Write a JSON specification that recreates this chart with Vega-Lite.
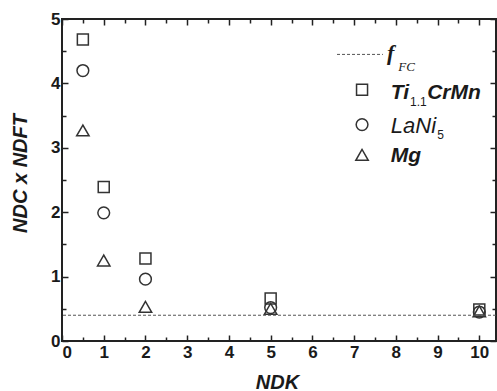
{
  "$schema": "https://vega.github.io/schema/vega-lite/v6.json",
  "width": 434,
  "height": 322,
  "autosize": {"type": "none"},
  "padding": {"left": 62, "top": 19, "right": 1, "bottom": 50},
  "background": "white",
  "config": {
    "view": {"stroke": "#222", "strokeWidth": 2},
    "axis": {"grid": false, "domain": false, "tickColor": "#222", "tickWidth": 1.5, "labelFont": "Liberation Sans", "labelFontWeight": "bold", "labelFontSize": 17, "labelColor": "#1a1a1a", "titleFont": "Liberation Sans", "titleFontWeight": "bold", "titleFontStyle": "italic", "titleColor": "#1a1a1a"}
  },
  "datasets": {
    "pts": [
      {"NDK": 0.5, "v": 4.68, "series": "Ti"},
      {"NDK": 1, "v": 2.39, "series": "Ti"},
      {"NDK": 2, "v": 1.28, "series": "Ti"},
      {"NDK": 5, "v": 0.66, "series": "Ti"},
      {"NDK": 10, "v": 0.49, "series": "Ti"},
      {"NDK": 0.5, "v": 4.2, "series": "LaNi"},
      {"NDK": 1, "v": 1.99, "series": "LaNi"},
      {"NDK": 2, "v": 0.96, "series": "LaNi"},
      {"NDK": 5, "v": 0.52, "series": "LaNi"},
      {"NDK": 10, "v": 0.45, "series": "LaNi"},
      {"NDK": 0.5, "v": 3.27, "series": "Mg"},
      {"NDK": 1, "v": 1.25, "series": "Mg"},
      {"NDK": 2, "v": 0.53, "series": "Mg"},
      {"NDK": 5, "v": 0.5, "series": "Mg"},
      {"NDK": 10, "v": 0.46, "series": "Mg"}
    ],
    "fc": [{"f": 0.4}],
    "legSym": [
      {"lx": 7.19, "ly": 3.9, "series": "Ti"},
      {"lx": 7.19, "ly": 3.36, "series": "LaNi"},
      {"lx": 7.19, "ly": 2.89, "series": "Mg"}
    ],
    "legLine": [{"lx": 6.59, "ly": 4.45}, {"lx": 7.69, "ly": 4.45}],
    "legBold": [
      {"lx": 7.88, "ly": 3.76, "t": "Ti"},
      {"lx": 8.75, "ly": 3.76, "t": "CrMn"},
      {"lx": 7.88, "ly": 2.78, "t": "Mg"}
    ],
    "legReg": [
      {"lx": 7.88, "ly": 3.23, "t": "LaNi"}
    ],
    "legSub": [
      {"lx": 8.34, "ly": 3.65, "t": "1.1"},
      {"lx": 8.99, "ly": 3.13, "t": "5"}
    ],
    "legF": [{"lx": 7.79, "ly": 4.37, "t": "f"}],
    "legFC": [{"lx": 8.06, "ly": 4.2, "t": "FC"}]
  },
  "resolve": {"axis": {"x": "independent", "y": "independent"}},
  "layer": [
    {
      "data": {"name": "pts"},
      "mark": {"type": "point", "filled": false, "strokeWidth": 1.5, "color": "#333", "opacity": 1},
      "encoding": {
        "x": {"field": "NDK", "type": "quantitative", "scale": {"domain": [0, 10.4], "nice": false, "zero": false},
              "axis": {"orient": "bottom", "values": [0,1,2,3,4,5,6,7,8,9,10], "tickSize": -6, "labelPadding": 9, "title": "NDK", "titleFontSize": 20, "titleX": 215, "titleY": 47, "titleBaseline": "alphabetic", "titleAnchor": "middle"}},
        "y": {"field": "v", "type": "quantitative", "scale": {"domain": [0, 5], "nice": false},
              "axis": {"orient": "left", "values": [0,1,2,3,4,5], "tickSize": -6, "labelPadding": 8, "title": "NDC x NDFT", "titleFontSize": 20, "titleX": -42, "titleY": 154, "titleAngle": -90, "titleBaseline": "middle", "titleAnchor": "middle"}},
        "shape": {"field": "series", "type": "nominal", "scale": {"domain": ["Ti", "LaNi", "Mg"], "range": ["square", "circle", "triangle-up"]}, "legend": null},
        "size": {"field": "series", "type": "nominal", "scale": {"domain": ["Ti", "LaNi", "Mg"], "range": [121, 155, 235]}, "legend": null}
      }
    },
    {
      "data": {"name": "fc"},
      "mark": {"type": "rule", "strokeDash": [3, 2], "color": "#555", "strokeWidth": 1},
      "encoding": {
        "y": {"field": "f", "type": "quantitative", "axis": {"orient": "right", "values": [0,1,2,3,4,5], "tickSize": -6, "labels": false, "title": null}}
      }
    },
    {
      "data": {"name": "pts"},
      "mark": {"type": "point", "opacity": 0},
      "encoding": {
        "x": {"field": "NDK", "type": "quantitative", "axis": {"orient": "top", "values": [0,1,2,3,4,5,6,7,8,9,10], "tickSize": -6, "labels": false, "title": null}},
        "y": {"field": "v", "type": "quantitative", "axis": {"orient": "left", "values": [0.5,1.5,2.5,3.5,4.5], "tickSize": -4, "labels": false, "title": null}}
      }
    },
    {
      "data": {"name": "pts"},
      "mark": {"type": "point", "opacity": 0},
      "encoding": {
        "x": {"field": "NDK", "type": "quantitative", "axis": {"orient": "bottom", "values": [0.5,1.5,2.5,3.5,4.5,5.5,6.5,7.5,8.5,9.5], "tickSize": -4, "labels": false, "title": null}},
        "y": {"field": "v", "type": "quantitative", "axis": {"orient": "right", "values": [0.5,1.5,2.5,3.5,4.5], "tickSize": -4, "labels": false, "title": null}}
      }
    },
    {
      "data": {"name": "pts"},
      "mark": {"type": "point", "opacity": 0},
      "encoding": {
        "x": {"field": "NDK", "type": "quantitative", "axis": {"orient": "top", "values": [0.5,1.5,2.5,3.5,4.5,5.5,6.5,7.5,8.5,9.5], "tickSize": -4, "labels": false, "title": null}},
        "y": {"field": "v", "type": "quantitative", "axis": null}
      }
    },
    {
      "data": {"name": "legLine"},
      "mark": {"type": "line", "strokeDash": [3, 2], "color": "#555", "strokeWidth": 1},
      "encoding": {
        "x": {"field": "lx", "type": "quantitative", "axis": null},
        "y": {"field": "ly", "type": "quantitative", "axis": null}
      }
    },
    {
      "data": {"name": "legSym"},
      "mark": {"type": "point", "filled": false, "strokeWidth": 1.5, "color": "#333", "opacity": 1},
      "encoding": {
        "x": {"field": "lx", "type": "quantitative", "axis": null},
        "y": {"field": "ly", "type": "quantitative", "axis": null},
        "shape": {"field": "series", "type": "nominal", "legend": null},
        "size": {"field": "series", "type": "nominal", "legend": null}
      }
    },
    {
      "data": {"name": "legBold"},
      "mark": {"type": "text", "align": "left", "baseline": "alphabetic", "font": "Liberation Sans", "fontStyle": "italic", "fontWeight": "bold", "fontSize": 21, "color": "#1a1a1a"},
      "encoding": {
        "x": {"field": "lx", "type": "quantitative", "axis": null},
        "y": {"field": "ly", "type": "quantitative", "axis": null},
        "text": {"field": "t"}
      }
    },
    {
      "data": {"name": "legReg"},
      "mark": {"type": "text", "align": "left", "baseline": "alphabetic", "font": "Liberation Sans", "fontStyle": "italic", "fontSize": 22, "color": "#1a1a1a"},
      "encoding": {
        "x": {"field": "lx", "type": "quantitative", "axis": null},
        "y": {"field": "ly", "type": "quantitative", "axis": null},
        "text": {"field": "t"}
      }
    },
    {
      "data": {"name": "legSub"},
      "mark": {"type": "text", "align": "left", "baseline": "alphabetic", "font": "Liberation Sans", "fontSize": 12, "color": "#1a1a1a"},
      "encoding": {
        "x": {"field": "lx", "type": "quantitative", "axis": null},
        "y": {"field": "ly", "type": "quantitative", "axis": null},
        "text": {"field": "t"}
      }
    },
    {
      "data": {"name": "legF"},
      "mark": {"type": "text", "align": "left", "baseline": "alphabetic", "font": "Liberation Serif", "fontStyle": "italic", "fontWeight": "bold", "fontSize": 22, "color": "#1a1a1a"},
      "encoding": {
        "x": {"field": "lx", "type": "quantitative", "axis": null},
        "y": {"field": "ly", "type": "quantitative", "axis": null},
        "text": {"field": "t"}
      }
    },
    {
      "data": {"name": "legFC"},
      "mark": {"type": "text", "align": "left", "baseline": "alphabetic", "font": "Liberation Serif", "fontStyle": "italic", "fontSize": 13, "color": "#1a1a1a"},
      "encoding": {
        "x": {"field": "lx", "type": "quantitative", "axis": null},
        "y": {"field": "ly", "type": "quantitative", "axis": null},
        "text": {"field": "t"}
      }
    }
  ]
}
